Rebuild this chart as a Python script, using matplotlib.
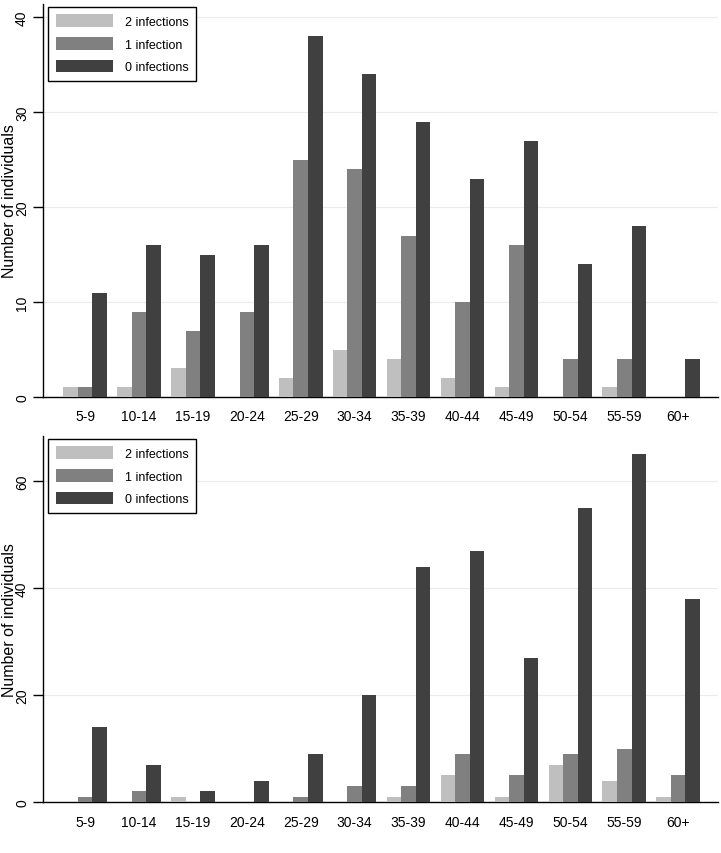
import matplotlib
matplotlib.use("Agg")
import matplotlib.pyplot as plt
import numpy as np

plt.rcParams['font.family'] = ['Liberation Sans', 'DejaVu Sans']

groups = ["5-9", "10-14", "15-19", "20-24", "25-29", "30-34",
          "35-39", "40-44", "45-49", "50-54", "55-59", "60+"]
series = ["2 infections", "1 infection", "0 infections"]
colors = ["#bfbfbf", "#808080", "#404040"]

# top panel
top_two = [1, 1, 3, 0, 2, 5, 4, 2, 1, 0, 1, 0]
top_one = [1, 9, 7, 9, 25, 24, 17, 10, 16, 4, 4, 0]
top_zero = [11, 16, 15, 16, 38, 34, 29, 23, 27, 14, 18, 4]

# bottom panel
bot_two = [0, 0, 1, 0, 0, 0, 1, 5, 1, 7, 4, 1]
bot_one = [1, 2, 0, 0, 1, 3, 3, 9, 5, 9, 10, 5]
bot_zero = [14, 7, 2, 4, 9, 20, 44, 47, 27, 55, 65, 38]

fig = plt.figure(figsize=(7.21, 8.54), dpi=100)
ax1 = fig.add_axes([0.0596, 0.534, 0.9364, 0.460])
ax2 = fig.add_axes([0.0596, 0.0597, 0.9364, 0.4283])

x = np.arange(len(groups))
w = 0.27

def draw(ax, vals, ymax, ticks):
    for i, (v, c, lab) in enumerate(zip(vals, colors, series)):
        ax.bar(x + (i - 1) * w, v, width=w, color=c, label=lab, zorder=3)
    ax.set_xlim(-0.78, 11.74)
    ax.set_ylim(0, ymax)
    ax.set_yticks(ticks)
    ax.set_yticklabels([str(t) for t in ticks], rotation=90, va="center")
    ax.set_xticks(x)
    ax.set_xticklabels(groups)
    ax.tick_params(axis="x", length=0, pad=9, labelsize=10)
    ax.tick_params(axis="y", length=7, width=1, labelsize=10, pad=3)
    ax.grid(axis="y", color="#ebebeb", linewidth=0.8, zorder=0)
    for s in ["top", "right"]:
        ax.spines[s].set_visible(False)
    ax.spines["left"].set_linewidth(1)
    ax.spines["bottom"].set_linewidth(1)
    ax.set_ylabel("Number of individuals", fontsize=11.5)
    ax.yaxis.set_label_coords(-0.039, 0.5)
    leg = ax.legend(loc="upper left", bbox_to_anchor=(0.008, 0.993),
                    fancybox=False, framealpha=1, edgecolor="black",
                    fontsize=9, handlelength=4.6, handleheight=1.2,
                    borderpad=0.6, labelspacing=0.72, handletextpad=0.9,
                    borderaxespad=0)
    leg.get_frame().set_linewidth(1)

draw(ax1, [top_two, top_one, top_zero], 41.4, [0, 10, 20, 30, 40])
draw(ax2, [bot_two, bot_one, bot_zero], 68.4, [0, 20, 40, 60])

fig.savefig("out.png", dpi=100)
